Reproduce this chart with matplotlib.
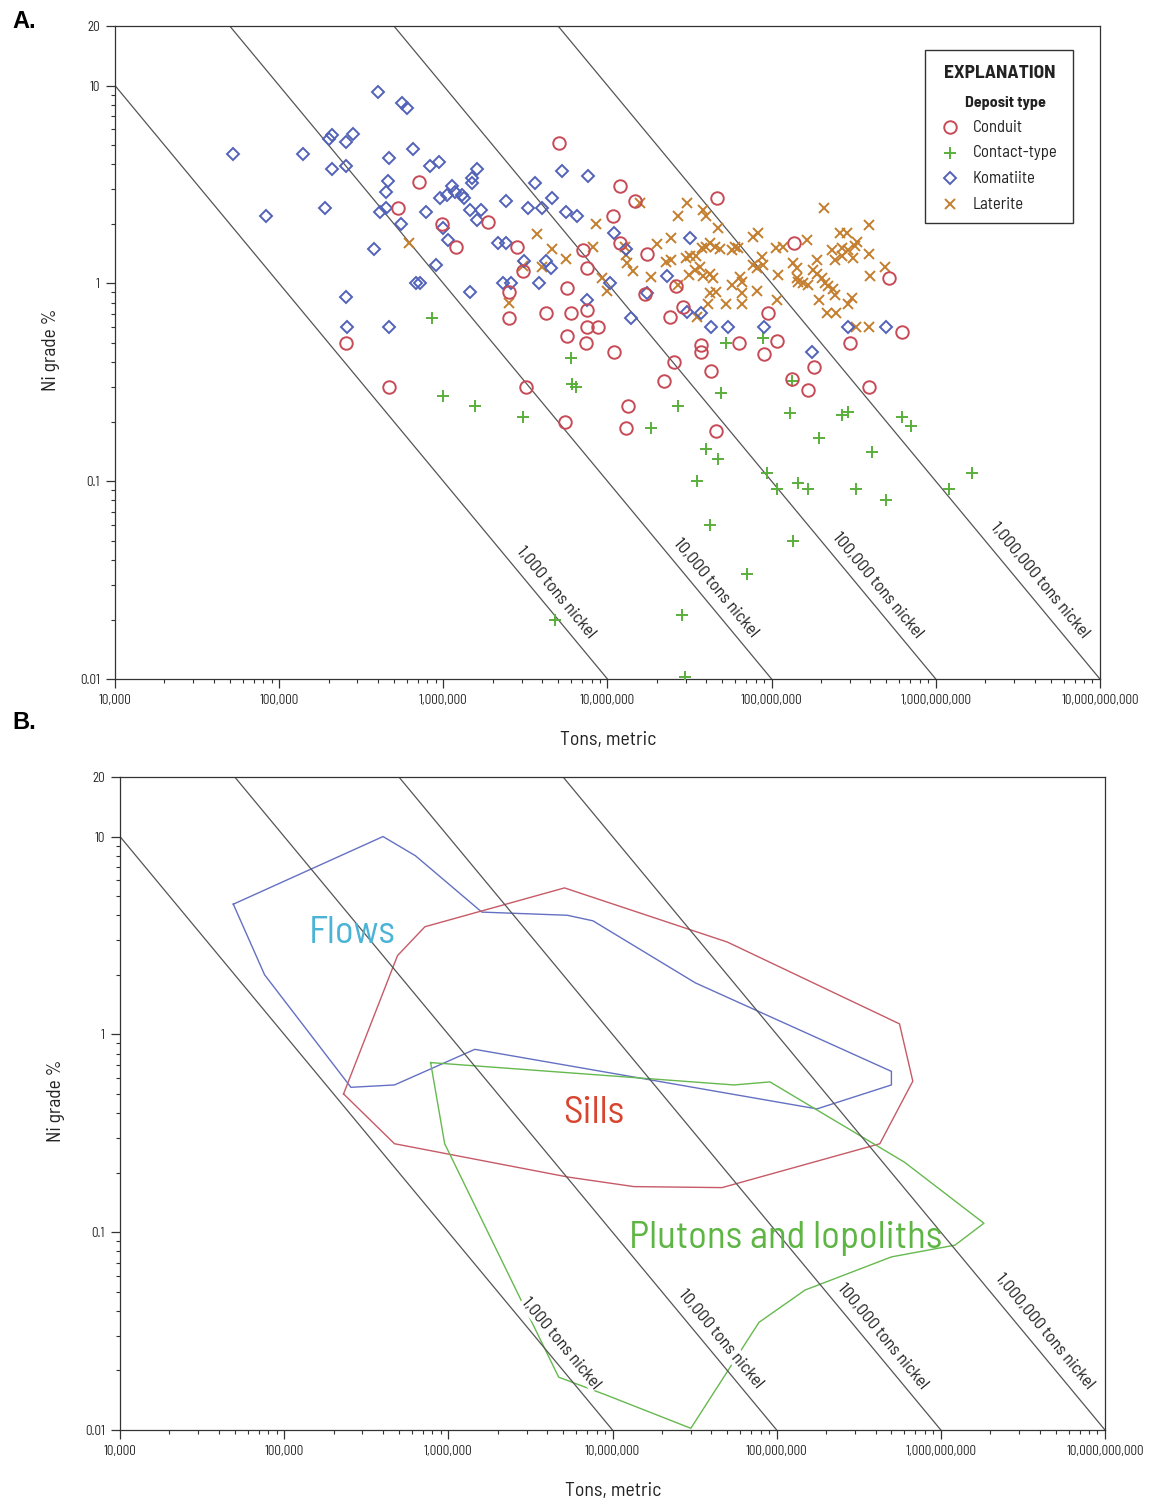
import numpy as np
import matplotlib.pyplot as plt
from matplotlib.patches import Rectangle
from matplotlib.ticker import FixedLocator, NullFormatter, LogLocator

plt.rcParams['font.family'] = ['Barlow Semi Condensed', 'DejaVu Sans']

# ---- panel A: deposits, (tons metric, Ni grade %) ----
conduit = [(2.55e5, 0.5), (4.7e5, 0.3), (5.3e5, 2.4), (7.1e5, 3.25), (9.8e5, 2.0),
           (1.2e6, 1.53), (1.87e6, 2.05), (2.5e6, 0.9), (2.5e6, 0.67), (2.8e6, 1.53),
           (3.05e6, 1.15), (3.2e6, 0.3), (4.2e6, 0.71), (5.1e6, 5.1), (5.5e6, 0.2),
           (5.7e6, 0.95), (5.7e6, 0.54), (6.0e6, 0.71), (7.1e6, 1.47), (7.4e6, 0.5),
           (7.5e6, 1.19), (7.5e6, 0.73), (7.5e6, 0.6), (8.75e6, 0.6), (1.08e7, 2.2),
           (1.1e7, 0.45), (1.2e7, 1.6), (1.2e7, 3.1), (1.3e7, 0.185), (1.33e7, 0.24),
           (1.47e7, 2.6), (1.7e7, 0.88), (1.75e7, 1.4), (2.2e7, 0.32), (2.4e7, 0.68),
           (2.55e7, 0.4), (2.6e7, 0.97), (2.9e7, 0.76), (3.7e7, 0.49), (3.7e7, 0.45),
           (4.3e7, 0.36), (4.6e7, 0.18), (4.65e7, 2.7), (6.3e7, 0.5), (9.0e7, 0.44),
           (9.5e7, 0.71), (1.08e8, 0.51), (1.33e8, 0.33), (1.37e8, 1.6), (1.66e8, 0.29),
           (1.8e8, 0.38), (3.0e8, 0.5), (3.9e8, 0.3), (5.2e8, 1.06), (6.2e8, 0.57)]

contact = [(8.5e5, 0.67), (1.0e6, 0.27), (1.55e6, 0.24), (3.05e6, 0.21), (6.0e6, 0.42),
           (6.1e6, 0.31), (6.4e6, 0.30), (4.8e6, 0.02), (1.84e7, 0.185), (2.7e7, 0.24),
           (2.85e7, 0.021), (2.95e7, 0.0102), (3.5e7, 0.1), (4.0e7, 0.145), (4.7e7, 0.13),
           (4.2e7, 0.06), (4.9e7, 0.28), (5.3e7, 0.5), (7.1e7, 0.034), (8.8e7, 0.53),
           (9.35e7, 0.11), (1.08e8, 0.091), (1.33e8, 0.32), (1.3e8, 0.22), (1.35e8, 0.05),
           (1.44e8, 0.098), (1.66e8, 0.091), (1.94e8, 0.165), (2.7e8, 0.215), (2.9e8, 0.225),
           (3.26e8, 0.091), (4.1e8, 0.14), (5.0e8, 0.08), (6.2e8, 0.21), (7.1e8, 0.19),
           (1.2e9, 0.091), (1.66e9, 0.11)]

komatiite = [(5.2e4, 4.5), (8.3e4, 2.2), (1.4e5, 4.5), (1.9e5, 2.4), (2.0e5, 5.4),
             (2.1e5, 5.6), (2.1e5, 3.8), (2.55e5, 3.9), (2.55e5, 5.2), (2.8e5, 5.7),
             (2.55e5, 0.85), (2.6e5, 0.6), (4.0e5, 9.3), (3.8e5, 1.5), (4.7e5, 4.3),
             (4.6e5, 3.3), (4.5e5, 2.9), (4.1e5, 2.3), (4.5e5, 2.4), (5.5e5, 2.0),
             (4.7e5, 0.6), (5.6e5, 8.2), (6.0e5, 7.7), (6.5e5, 4.8), (6.8e5, 1.0),
             (7.2e5, 1.0), (7.8e5, 2.3), (9.0e5, 1.24), (8.3e5, 3.9), (9.4e5, 4.1),
             (9.5e5, 2.7), (1.0e6, 1.9), (1.07e6, 1.65), (1.13e6, 3.1), (1.18e6, 2.9),
             (1.05e6, 2.8), (1.3e6, 2.8), (1.33e6, 2.7), (1.45e6, 0.9), (1.5e6, 3.4),
             (1.5e6, 3.2), (1.6e6, 3.8), (1.45e6, 2.35), (1.6e6, 2.1), (1.7e6, 2.35),
             (2.15e6, 1.6), (2.4e6, 1.6), (2.3e6, 1.0), (2.6e6, 1.0), (2.4e6, 2.6),
             (3.1e6, 1.3), (3.3e6, 2.4), (3.6e6, 3.2), (3.8e6, 1.0), (4.0e6, 2.4),
             (4.2e6, 1.3), (4.5e6, 1.2), (4.6e6, 2.7), (5.3e6, 3.7), (5.6e6, 2.3),
             (6.5e6, 2.2), (7.6e6, 3.5), (7.5e6, 0.82), (1.1e7, 1.8), (1.3e7, 1.5),
             (3.2e7, 1.7), (1.03e7, 1.0), (1.4e7, 0.67), (2.3e7, 1.09), (1.75e7, 0.89),
             (3.05e7, 0.72), (3.7e7, 0.71), (4.3e7, 0.6), (5.4e7, 0.6), (9.0e7, 0.6),
             (1.75e8, 0.45), (2.9e8, 0.6), (5.0e8, 0.6)]

laterite = [(6.2e5, 1.6), (2.5e6, 0.8), (3.05e6, 1.22), (3.7e6, 1.77), (4.0e6, 1.21),
            (4.6e6, 1.5), (5.6e6, 1.33), (8.15e6, 1.53), (8.5e6, 2.0), (9.2e6, 1.06),
            (1.0e7, 0.92), (1.28e7, 1.53), (1.3e7, 1.39), (1.31e7, 1.27), (1.43e7, 1.15),
            (1.58e7, 2.55), (1.84e7, 1.08), (2.0e7, 1.58), (2.27e7, 1.28), (2.43e7, 1.31),
            (2.43e7, 1.69), (2.7e7, 2.2), (2.7e7, 0.98), (3.0e7, 1.34), (3.05e7, 2.55),
            (3.13e7, 1.1), (3.18e7, 1.37), (3.4e7, 1.17), (3.45e7, 1.37), (3.5e7, 0.68),
            (3.66e7, 1.21), (3.76e7, 1.51), (3.8e7, 2.35), (3.8e7, 1.09), (4.0e7, 2.19),
            (4.0e7, 1.53), (4.1e7, 0.79), (4.2e7, 1.6), (4.2e7, 1.11), (4.2e7, 0.89),
            (4.4e7, 1.06), (4.5e7, 1.53), (4.6e7, 0.9), (4.7e7, 1.9), (4.84e7, 1.49),
            (5.3e7, 0.785), (5.7e7, 1.47), (5.7e7, 0.98), (6.0e7, 1.53), (6.2e7, 1.51),
            (6.4e7, 1.08), (6.6e7, 1.02), (6.6e7, 0.89), (6.6e7, 0.79), (7.7e7, 1.71),
            (7.7e7, 1.24), (8.1e7, 1.19), (8.1e7, 0.92), (8.25e7, 1.8), (8.7e7, 1.36),
            (8.85e7, 1.24), (1.06e8, 1.51), (1.08e8, 0.82), (1.09e8, 1.1), (1.17e8, 1.53),
            (1.35e8, 1.27), (1.42e8, 1.19), (1.42e8, 1.06), (1.44e8, 1.02), (1.55e8, 1.0),
            (1.64e8, 1.66), (1.66e8, 0.98), (1.78e8, 1.17), (1.89e8, 1.11), (1.89e8, 1.31),
            (1.94e8, 0.82), (2.02e8, 1.06), (2.08e8, 2.4), (2.11e8, 1.0), (2.17e8, 0.71),
            (2.2e8, 0.97), (2.36e8, 0.935), (2.43e8, 0.87), (2.33e8, 1.47), (2.43e8, 1.31),
            (2.46e8, 0.71), (2.6e8, 1.8), (2.7e8, 1.51), (2.7e8, 1.37), (2.87e8, 1.8),
            (2.9e8, 1.47), (2.9e8, 0.79), (3.08e8, 0.84), (3.13e8, 1.34), (3.2e8, 1.55),
            (3.25e8, 0.6), (3.3e8, 1.62), (3.9e8, 1.97), (3.9e8, 0.6), (3.94e8, 1.41),
            (4.0e8, 1.09), (4.9e8, 1.21)]

# ---- panel B: fields, polygon vertices (tons, grade %) ----
flows = [(4.9e4, 4.55), (4.0e5, 10.0), (6.3e5, 8.0), (1.6e6, 4.15), (5.3e6, 4.0),
         (7.6e6, 3.75), (3.2e7, 1.82), (5.0e8, 0.65), (5.0e8, 0.555), (1.76e8, 0.42),
         (1.45e6, 0.84), (4.7e5, 0.555), (2.55e5, 0.54), (7.6e4, 2.0)]
sills = [(2.3e5, 0.5), (4.7e5, 0.28), (5.35e6, 0.19), (1.35e7, 0.17), (4.65e7, 0.168),
         (4.25e8, 0.28), (6.75e8, 0.58), (5.6e8, 1.13), (5.0e7, 2.93), (5.1e6, 5.5),
         (7.2e5, 3.5), (4.9e5, 2.5)]
plutons = [(7.8e5, 0.72), (9.5e5, 0.28), (2.65e6, 0.049), (4.7e6, 0.0185), (9.2e6, 0.015),
           (3.0e7, 0.0102), (7.8e7, 0.035), (1.49e8, 0.051), (5.0e8, 0.075), (1.22e9, 0.086),
           (1.83e9, 0.111), (6.0e8, 0.226), (9.1e7, 0.575), (5.5e7, 0.555)]

field_names = ['Flows', 'Sills', 'Plutons and lopoliths']
field_label_pos = [(2.6e5, 3.25), (7.7e6, 0.4), (1.14e8, 0.093)]

# contained-nickel lines and where their labels sit
nickel_tons = [1e3, 1e4, 1e5, 1e6]
nickel_labels = ['1,000 tons nickel', '10,000 tons nickel', '100,000 tons nickel',
                 '1,000,000 tons nickel']
nickel_label_pos = [(4.85e6, 0.0275), (4.58e7, 0.0288), (4.43e8, 0.0298), (4.3e9, 0.0316)]

x_ticks = [1e4, 1e5, 1e6, 1e7, 1e8, 1e9, 1e10]
y_ticks = [0.01, 0.1, 1, 10, 20]
y_tick_labels = ['0.01', '0.1', '1', '10', '20']

C_CONDUIT = '#c64b57'
C_CONTACT = '#5aae3c'
C_KOMAT = '#5262b8'
C_LAT = '#c47e2e'
LINE_C = '#555555'
TXT = '#222222'

fig = plt.figure(figsize=(11.5, 15.04), dpi=100)
axA = fig.add_axes([0.1, 0.5485, 0.8565, 0.4342])
axB = fig.add_axes([0.10435, 0.0492, 0.85652, 0.43418])


def setup(ax):
    ax.set_xscale('log')
    ax.set_yscale('log')
    ax.set_xlim(1e4, 1e10)
    ax.set_ylim(0.01, 20)
    ax.xaxis.set_major_locator(FixedLocator(x_ticks))
    ax.set_xticklabels([f'{int(v):,}' for v in x_ticks])
    ax.xaxis.set_minor_locator(LogLocator(base=10, subs=np.arange(2, 10)))
    ax.xaxis.set_minor_formatter(NullFormatter())
    ax.yaxis.set_major_locator(FixedLocator(y_ticks))
    ax.set_yticklabels(y_tick_labels)
    ymin = [m * 10.0 ** e for e in (-2, -1, 0) for m in range(2, 10)]
    ax.yaxis.set_minor_locator(FixedLocator(ymin))
    ax.yaxis.set_minor_formatter(NullFormatter())
    ax.tick_params(which='major', direction='out', length=6.5, width=0.9,
                   color='#333333', labelsize=9.4, labelcolor=TXT, pad=4.5)
    ax.tick_params(which='minor', direction='out', length=3, width=0.8, color='#333333')
    for s in ax.spines.values():
        s.set_color('#333333')
        s.set_linewidth(0.9)
    ax.set_xlabel('Tons, metric', fontsize=14.3, color=TXT)
    ax.set_ylabel('Ni grade %', fontsize=14, color=TXT)
    ax.xaxis.set_label_coords(0.5005, -0.079)
    ax.yaxis.set_label_coords(-0.056, 0.504)

    xs = np.array([1e4, 1e10])
    for n, lab, (lx, ly) in zip(nickel_tons, nickel_labels, nickel_label_pos):
        ax.plot(xs, n * 100 / xs, color=LINE_C, lw=0.9, zorder=2.5)
        ax.text(lx, ly, lab, rotation=-50.3, ha='center', va='center', fontsize=12.8,
                color=TXT, zorder=2, bbox=dict(fc='white', ec='none', pad=0.5))


setup(axA)
setup(axB)

# panel A points
for data, mk, col, ms in [(laterite, 'x', C_LAT, 7),
                          (contact, '+', C_CONTACT, 9),
                          (komatiite, 'D', C_KOMAT, 6.5),
                          (conduit, 'o', C_CONDUIT, 9)]:
    t, g = np.array(data).T
    axA.plot(t, g, linestyle='none', marker=mk, ms=ms, mfc='none', mec=col,
             mew=1.4, zorder=3)

# explanation box
axA.add_patch(Rectangle((0.8223, 0.6983), 0.1503, 0.2649, transform=axA.transAxes,
                        fc='white', ec='#333333', lw=1, zorder=5))
axA.text(0.8985, 0.928, 'EXPLANATION', transform=axA.transAxes, ha='center',
         va='center', fontsize=14, fontweight='bold', color=TXT, zorder=6)
axA.text(0.9036, 0.882, 'Deposit type', transform=axA.transAxes, ha='center',
         va='center', fontsize=11.5, fontweight='bold', color=TXT, zorder=6)
legend_rows = [('Conduit', 'o', C_CONDUIT, 9), ('Contact-type', '+', C_CONTACT, 9),
               ('Komatiite', 'D', C_KOMAT, 6.5), ('Laterite', 'x', C_LAT, 7)]
for i, (lab, mk, col, ms) in enumerate(legend_rows):
    yy = 0.8453 - i * 0.0393
    axA.plot([0.8477], [yy], transform=axA.transAxes, linestyle='none', marker=mk,
             ms=ms, mfc='none', mec=col, mew=1.4, clip_on=False, zorder=6)
    axA.text(0.871, yy, lab, transform=axA.transAxes, ha='left', va='center',
             fontsize=12, color=TXT, zorder=6)

# panel B fields
field_colors = ['#6470c2', '#c65a66', '#66b94f']
text_colors = ['#4ab3d6', '#d8452f', '#5db544']
for poly, col in zip([flows, sills, plutons], field_colors):
    t, g = np.array(poly + poly[:1]).T
    axB.plot(t, g, color=col, lw=1.0, zorder=1.5)
for name, (tx, ty), col in zip(field_names, field_label_pos, text_colors):
    axB.text(tx, ty, name, ha='center', va='center', fontsize=28, color=col, zorder=4)

fig.text(0.0104, 0.9854, 'A.', fontsize=17, fontweight='bold', family='Liberation Sans',
         ha='left', va='center')
fig.text(0.0104, 0.5193, 'B.', fontsize=17, fontweight='bold', family='Liberation Sans',
         ha='left', va='center')

fig.savefig('out.png', dpi=100, facecolor='white')
